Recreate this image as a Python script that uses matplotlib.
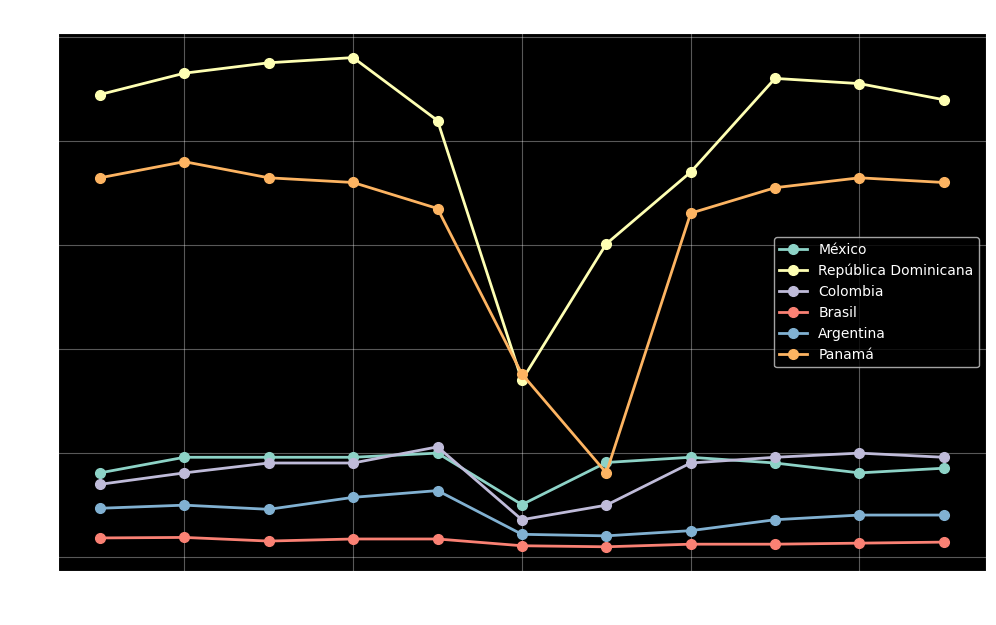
import matplotlib
matplotlib.use('Agg')
import matplotlib.pyplot as plt

plt.style.use('dark_background')

# years and series
years = [2015, 2016, 2017, 2018, 2019, 2020, 2021, 2022, 2023, 2024, 2025]
mexico = [16.2, 19.2, 19.2, 19.2, 20.0, 10.1, 18.2, 19.2, 18.1, 16.2, 17.1]
rep_dominicana = [88.9, 93.0, 95.0, 96.0, 83.9, 34.0, 60.2, 74.0, 92.0, 91.0, 87.9]
colombia = [14.0, 16.2, 18.1, 18.1, 21.2, 7.2, 10.0, 18.1, 19.2, 20.0, 19.2]
brasil = [3.7, 3.8, 3.1, 3.5, 3.5, 2.2, 2.0, 2.5, 2.5, 2.7, 2.9]
argentina = [9.4, 10.0, 9.2, 11.5, 12.8, 4.4, 4.1, 5.1, 7.2, 8.1, 8.1]
panama = [72.9, 76.0, 72.9, 72.0, 67.0, 35.2, 16.2, 66.1, 71.0, 72.9, 72.0]

series = [
    ('México', mexico),
    ('República Dominicana', rep_dominicana),
    ('Colombia', colombia),
    ('Brasil', brasil),
    ('Argentina', argentina),
    ('Panamá', panama),
]

fig, ax = plt.subplots(figsize=(9.96, 6.25), dpi=100)
fig.patch.set_facecolor('white')
ax.set_facecolor('black')

for name, vals in series:
    ax.plot(years, vals, marker='o', linewidth=2, markersize=7, label=name)

ax.set_xticks([2016, 2018, 2020, 2022, 2024])
ax.set_yticks([0, 20, 40, 60, 80, 100])
ax.grid(True, alpha=0.35)
ax.legend(loc='center right')

fig.subplots_adjust(left=0.058, right=0.99, top=0.947, bottom=0.086)
fig.savefig('out.png', dpi=100, facecolor='white')
